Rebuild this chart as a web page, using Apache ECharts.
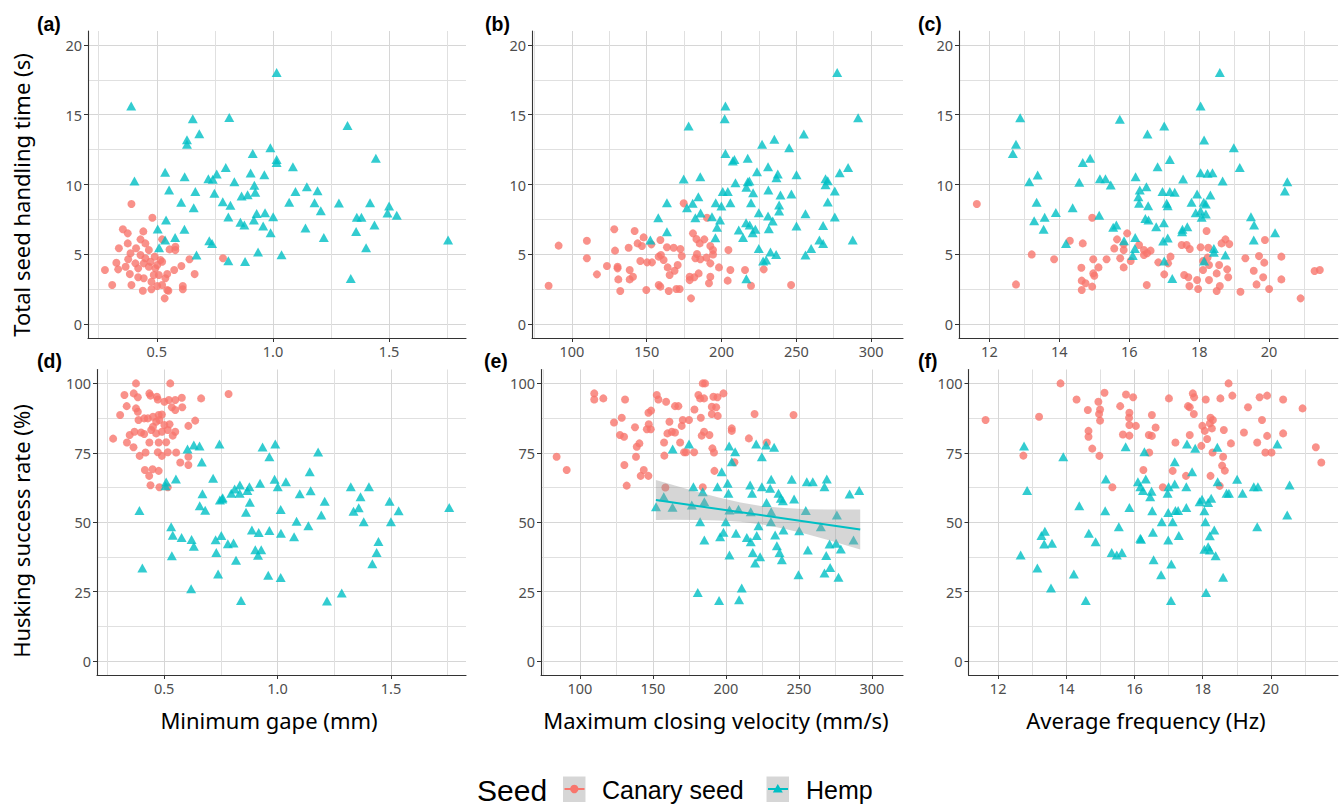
<!DOCTYPE html>
<html><head><meta charset="utf-8">
<script src="https://cdn.jsdelivr.net/npm/echarts@6/dist/echarts.min.js"></script>
<style>html,body{margin:0;padding:0;background:#fff}#c{width:1344px;height:807px}</style>
</head><body><div id="c"></div><script>
// ---------- tick labels ----------
const gapeTicks=[0.5,1.0,1.5], gapeMinor=[0.25,0.75,1.25,1.75];
const velTicks=[100,150,200,250,300], velMinor=[75,125,175,225,275];
const freqTicks=[12,14,16,18,20], freqMinor=[13,15,17,19,21];
const timeTicks=[0,5,10,15,20], timeMinor=[2.5,7.5,12.5,17.5];
const huskTicks=[0,25,50,75,100], huskMinor=[12.5,37.5,62.5,87.5];

// ---------- (a) gape vs time ----------
const canaryGapeTime=[[0.391,8.60],[0.481,7.62],[0.354,6.79],[0.375,6.50],[0.442,6.64],[0.523,6.07],[0.375,5.78],[0.337,5.43],[0.430,6.07],[0.451,5.78],[0.411,5.43],[0.466,5.30],[0.555,5.35],[0.580,5.54],[0.580,5.30],[0.387,5.07],[0.430,4.95],[0.491,4.83],[0.516,4.59],[0.377,4.64],[0.326,4.39],[0.444,4.35],[0.473,4.47],[0.523,4.47],[0.641,4.64],[0.334,3.92],[0.366,4.11],[0.420,3.99],[0.466,4.11],[0.502,4.23],[0.606,4.16],[0.277,3.87],[0.384,3.58],[0.420,3.35],[0.444,3.28],[0.487,3.51],[0.509,3.51],[0.537,3.28],[0.575,3.87],[0.663,3.58],[0.545,3.58],[0.308,2.80],[0.391,2.80],[0.477,3.03],[0.502,2.72],[0.545,2.44],[0.440,2.39],[0.612,2.72],[0.612,2.49],[0.534,1.84],[0.477,2.49],[0.523,2.80],[0.785,4.71],[0.408,4.35],[0.451,4.71],[0.494,3.99],[0.550,2.39]];
const hempGapeTime=[[1.016,18.02],[0.39,15.63],[0.655,14.72],[0.812,14.81],[0.683,13.64],[0.630,13.21],[0.630,12.88],[1.321,14.22],[0.989,12.64],[0.913,12.23],[1.016,11.80],[1.016,11.57],[1.443,11.88],[1.086,11.28],[0.797,11.21],[0.536,10.87],[0.620,10.56],[0.404,10.25],[0.904,10.82],[0.963,10.70],[0.758,10.75],[0.722,10.42],[0.741,10.37],[0.834,10.20],[0.920,9.94],[0.553,9.61],[0.666,9.49],[0.748,9.37],[0.865,9.18],[0.891,9.27],[0.924,9.44],[1.146,9.84],[1.097,9.49],[1.192,9.56],[0.605,8.72],[0.784,8.77],[0.817,8.51],[0.659,8.34],[1.070,8.72],[1.179,8.70],[1.284,8.67],[1.418,8.70],[1.500,8.46],[1.206,8.12],[1.493,7.96],[1.533,7.79],[0.808,7.67],[0.930,7.93],[0.966,7.98],[1.001,7.69],[0.918,7.46],[1.361,7.65],[1.381,7.65],[0.540,7.46],[0.860,7.29],[0.877,7.10],[0.958,7.03],[0.504,6.81],[0.619,6.79],[1.140,6.88],[1.437,7.10],[0.990,6.55],[1.358,6.64],[0.536,6.02],[0.579,6.21],[0.726,5.97],[0.738,5.78],[1.219,6.21],[1.754,6.02],[0.510,5.47],[1.401,5.47],[0.671,4.95],[0.936,5.16],[1.037,4.97],[0.808,4.54],[0.880,4.49],[1.335,3.27]];

// ---------- (b) velocity vs time ----------
const canaryVelTime=[[84.4,2.75],[91.1,5.62],[110.0,5.97],[110.0,4.71],[116.7,3.56],[123.4,4.16],[128.3,6.79],[128.8,5.26],[130.5,4.11],[130.5,3.99],[131.0,3.20],[132.3,2.37],[137.9,5.47],[138.6,3.87],[138.6,3.20],[140.8,3.39],[141.9,6.67],[143.9,5.78],[146.8,5.59],[147.9,6.21],[145.7,4.52],[150.2,4.42],[149.7,2.44],[153.5,4.42],[153.1,5.71],[159.1,6.02],[158.0,4.83],[159.5,4.95],[161.3,4.59],[163.5,5.50],[164.0,4.06],[165.3,3.51],[158.0,2.80],[159.1,2.68],[164.7,2.37],[168.0,5.47],[168.6,3.82],[170.7,4.23],[169.8,2.51],[172.0,2.51],[172.5,5.38],[173.4,4.87],[174.7,8.65],[179.6,1.84],[178.7,3.39],[178.7,3.15],[180.9,6.50],[183.2,6.09],[185.4,5.78],[188.5,6.07],[183.6,5.02],[182.5,4.71],[185.8,4.64],[189.9,4.76],[181.8,3.35],[184.7,3.63],[190.3,7.62],[192.5,5.59],[194.3,5.30],[194.3,4.99],[192.5,4.35],[192.5,3.39],[191.6,2.92],[198.3,4.06],[204.1,3.11],[204.6,5.30],[205.9,3.87],[215.7,3.87],[219.7,2.75],[228.2,3.92],[246.5,2.80]];
const hempVelTime=[[277.3,18.02],[202.6,15.63],[202.1,14.72],[178.0,14.19],[291.3,14.79],[255.0,13.62],[227.1,12.88],[235.3,13.24],[245.2,12.64],[202.6,12.23],[207.5,11.68],[208.6,11.80],[217.5,11.88],[231.1,11.28],[223.7,10.92],[237.6,10.75],[250.1,10.70],[284.6,11.21],[279.0,10.85],[269.5,10.42],[271.0,10.27],[269.5,9.99],[174.7,10.39],[185.8,10.56],[209.3,10.13],[217.5,10.20],[218.6,10.25],[236.7,10.49],[216.6,9.80],[231.3,9.61],[200.8,9.49],[204.2,9.49],[221.1,9.41],[239.4,9.25],[246.7,9.32],[275.7,9.53],[184.5,9.13],[163.5,8.70],[180.7,8.65],[176.9,8.34],[196.1,8.70],[199.9,8.46],[205.9,8.70],[219.7,8.70],[238.5,8.53],[238.5,8.10],[271.0,8.75],[157.7,7.62],[182.5,7.62],[186.0,7.96],[193.6,7.69],[199.0,7.46],[224.9,7.98],[231.1,7.74],[234.2,7.38],[256.1,7.91],[275.7,7.67],[216.4,7.26],[218.8,7.10],[222.6,6.79],[220.8,6.55],[211.5,6.74],[197.0,6.93],[231.6,6.83],[250.1,7.03],[267.9,7.07],[163.5,6.62],[214.4,6.21],[195.9,6.19],[152.4,6.02],[265.4,6.02],[267.9,5.78],[287.7,6.02],[224.9,5.42],[259.9,5.42],[232.7,5.16],[236.5,4.99],[256.1,4.95],[227.8,4.52],[229.8,4.59],[216.6,3.25]];

// ---------- (c) frequency vs time ----------
const canaryFreqTime=[[11.64,8.60],[12.76,2.84],[13.21,4.99],[13.85,4.64],[14.30,5.97],[14.67,5.78],[14.63,4.04],[14.64,3.11],[14.75,2.92],[14.64,2.44],[14.94,7.62],[14.97,4.64],[14.97,3.63],[15.00,3.46],[14.94,2.68],[15.12,4.06],[15.35,4.64],[15.57,5.42],[15.65,6.07],[15.74,4.71],[15.84,5.71],[15.84,5.30],[15.84,4.06],[15.94,6.50],[16.04,4.52],[16.28,5.66],[16.42,5.30],[16.42,4.95],[16.51,5.07],[16.61,5.26],[16.50,2.80],[16.83,4.42],[17.00,3.56],[17.11,4.35],[17.18,4.83],[17.50,5.66],[17.64,5.66],[17.73,5.38],[17.57,3.51],[17.69,3.35],[17.72,2.72],[17.94,3.15],[17.97,2.51],[18.04,5.50],[18.11,4.52],[18.11,3.87],[18.21,6.67],[18.26,5.47],[18.24,4.76],[18.28,4.23],[18.28,3.15],[18.50,3.63],[18.57,4.23],[18.59,2.72],[18.50,2.37],[18.64,5.78],[18.75,6.07],[18.86,5.73],[18.80,3.92],[18.83,3.35],[19.18,2.32],[19.32,4.71],[19.56,3.82],[19.64,2.84],[19.71,4.87],[19.88,6.02],[19.86,4.40],[19.83,3.35],[20.00,2.51],[20.35,4.83],[20.35,3.20],[20.90,1.84],[21.30,3.80],[21.45,3.87]];
const hempFreqTime=[[18.59,18.02],[18.04,15.63],[12.88,14.79],[15.73,14.67],[17.00,14.19],[16.52,13.62],[18.14,13.19],[12.76,12.88],[12.67,12.23],[18.99,12.64],[17.16,11.80],[14.88,11.88],[14.67,11.57],[16.81,11.28],[19.16,11.21],[13.38,10.68],[13.14,10.20],[16.18,10.56],[15.16,10.42],[15.32,10.42],[15.47,9.96],[14.57,10.16],[17.54,10.39],[18.04,10.85],[18.24,10.80],[18.38,10.85],[18.67,10.25],[20.52,10.20],[20.45,9.53],[16.30,9.61],[16.26,9.13],[16.49,9.84],[16.28,8.65],[16.54,8.48],[16.95,9.49],[17.16,9.49],[17.30,9.44],[17.07,8.65],[17.10,8.48],[17.94,9.32],[18.32,9.25],[17.78,8.72],[18.13,8.72],[18.19,8.60],[17.90,7.98],[18.04,8.10],[18.19,7.89],[18.07,7.65],[13.35,8.72],[14.38,8.34],[13.90,8.00],[13.28,7.41],[13.58,7.65],[13.55,6.79],[15.14,7.79],[15.54,6.93],[15.63,7.10],[16.46,7.57],[16.55,7.46],[16.77,6.98],[16.99,7.26],[17.52,6.79],[17.66,6.98],[17.51,6.62],[19.48,7.69],[19.57,7.10],[19.56,6.02],[20.17,6.55],[14.19,5.78],[15.85,5.97],[16.17,6.21],[16.97,5.95],[17.10,6.16],[16.16,5.42],[16.10,4.92],[17.00,4.52],[17.23,3.27],[18.14,4.52],[18.42,5.42],[18.42,5.14],[18.75,4.95]];

// ---------- (d) gape vs husking ----------
const canaryGapeHusk=[[0.376,100],[0.527,100],[0.325,95.8],[0.366,96.4],[0.384,95.0],[0.435,96.4],[0.440,95.6],[0.468,95.2],[0.472,94.2],[0.501,93.4],[0.521,94.0],[0.549,94.0],[0.578,94.8],[0.663,94.6],[0.784,96.2],[0.335,91.8],[0.376,91.0],[0.384,89.8],[0.534,91.4],[0.549,90.4],[0.580,91.4],[0.306,88.6],[0.387,86.8],[0.412,87.4],[0.428,87.4],[0.451,88.0],[0.476,88.6],[0.490,88.8],[0.465,86.2],[0.479,86.8],[0.501,85.0],[0.524,85.3],[0.637,86.6],[0.607,84.7],[0.451,84.4],[0.443,83.2],[0.369,82.6],[0.398,82.3],[0.412,81.8],[0.465,82.0],[0.490,82.6],[0.516,83.2],[0.549,82.6],[0.538,81.2],[0.348,81.4],[0.275,80.1],[0.336,78.7],[0.365,77.0],[0.435,78.7],[0.476,78.7],[0.509,78.8],[0.472,75.2],[0.490,73.9],[0.516,75.2],[0.553,75.1],[0.418,75.1],[0.392,73.9],[0.607,73.6],[0.607,70.6],[0.571,71.5],[0.415,68.8],[0.449,69.1],[0.476,68.5],[0.434,66.7],[0.440,63.3],[0.479,62.6],[0.516,62.6]];
const hempGapeHusk=[[1.757,55.3],[0.603,76.4],[0.631,77.8],[0.656,77.5],[0.744,78.2],[0.666,71.7],[0.934,77.1],[0.990,78.2],[0.964,73.6],[1.179,75.3],[1.142,68.2],[0.509,64.5],[0.506,63.1],[0.552,65.6],[0.716,65.8],[0.669,60.3],[0.657,55.9],[0.681,54.3],[0.746,58.0],[0.758,58.8],[0.796,60.4],[0.811,62.0],[0.834,63.4],[0.833,60.4],[0.867,61.4],[0.876,62.8],[0.878,57.2],[0.923,64.0],[0.861,53.6],[0.987,65.5],[1.001,62.8],[1.037,64.6],[1.014,54.6],[1.098,60.3],[1.146,61.3],[1.208,57.6],[1.193,52.6],[1.084,50.4],[1.136,48.7],[1.323,62.8],[1.403,62.8],[1.366,59.2],[1.358,55.2],[1.335,54.0],[1.380,50.2],[1.494,57.6],[1.534,54.1],[1.500,50.2],[1.445,43.1],[1.437,39.1],[1.418,35.1],[0.391,54.2],[0.531,48.4],[0.538,45.3],[0.577,44.5],[0.621,43.8],[0.631,41.4],[0.534,37.9],[0.404,33.5],[0.727,43.7],[0.730,39.1],[0.752,45.2],[0.756,58.4],[0.781,42.3],[0.806,42.5],[0.817,36.3],[0.887,47.2],[0.917,46.3],[0.964,47.0],[0.902,40.1],[0.928,40.1],[0.914,38.1],[1.015,46.0],[1.073,44.8],[0.738,31.4],[0.959,30.9],[1.014,30.1],[0.619,26.1],[0.839,21.8],[1.218,21.6],[1.283,24.5]];

// ---------- (e) velocity vs husking ----------
const canaryVelHusk=[[184.1,100],[185.7,100],[109.8,96.4],[109.8,94.2],[116.0,94.6],[130.9,94.2],[152.6,95.8],[153.7,94.2],[159.0,93.4],[165.1,91.8],[167.4,91.8],[181.1,95.8],[182.3,94.6],[185.0,94.6],[191.4,95.2],[194.2,95.0],[198.3,96.4],[178.4,90.6],[190.3,91.6],[193.3,91.4],[190.3,89.0],[194.4,88.3],[148.7,90.2],[146.9,89.4],[128.6,87.6],[123.3,85.9],[161.3,86.2],[170.4,86.8],[174.7,86.8],[182.8,87.6],[169.7,84.7],[147.1,85.3],[145.8,83.5],[148.5,83.5],[137.7,84.2],[159.9,82.0],[162.9,82.6],[165.1,82.3],[185.0,82.6],[183.4,81.2],[188.7,81.4],[127.4,81.4],[130.2,80.8],[204.0,83.8],[204.0,82.9],[219.6,89.0],[246.3,88.6],[215.7,80.2],[228.0,78.7],[140.7,78.4],[138.9,77.2],[157.6,78.7],[168.6,78.7],[171.3,75.2],[172.7,75.2],[178.2,75.2],[157.8,74.0],[190.7,76.6],[191.8,75.1],[138.4,73.6],[84.0,73.6],[90.9,68.8],[130.4,70.6],[143.7,68.8],[141.6,66.7],[146.9,66.7],[192.1,68.5],[205.8,71.6],[132.0,63.2],[158.5,62.5],[184.1,62.6]];
const hempVelHusk=[[163.5,76.4],[174.7,78.2],[202.2,77.5],[206.3,75.4],[204.0,71.8],[220.7,78.2],[227.5,77.8],[233.0,77.0],[224.6,73.6],[197.1,68.2],[177.7,62.8],[184.1,61.0],[194.2,62.8],[201.2,64.0],[201.7,60.4],[216.6,63.4],[217.9,60.4],[224.6,62.8],[231.0,65.5],[230.3,62.2],[236.0,60.4],[237.6,58.6],[239.0,57.7],[245.1,65.5],[246.7,58.4],[255.4,64.6],[259.5,64.6],[269.1,65.6],[267.5,62.8],[284.7,60.2],[291.3,61.4],[157.4,59.2],[152.1,55.6],[163.4,55.4],[176.6,56.2],[185.2,57.4],[202.4,54.4],[208.6,54.7],[217.0,53.8],[227.8,57.1],[231.0,53.8],[230.8,50.2],[254.7,54.2],[276.0,52.6],[182.3,50.2],[199.9,50.2],[222.3,48.7],[265.0,48.4],[239.4,47.2],[250.2,46.9],[198.3,46.4],[206.9,46.0],[221.1,45.2],[233.7,45.4],[196.0,44.8],[214.3,44.5],[217.0,43.0],[185.2,43.6],[287.4,43.6],[234.9,41.5],[256.1,40.0],[271.0,42.2],[275.5,42.4],[278.7,40.4],[236.7,39.1],[218.4,39.1],[202.4,38.2],[223.4,37.6],[268.7,38.0],[238.3,36.5],[220.0,35.3],[271.4,33.7],[267.5,31.7],[277.1,30.2],[249.7,31.1],[180.7,24.7],[210.8,26.3],[195.3,21.8],[209.0,22.1]];
// linear fit (hemp) and its confidence band
const fitVel=[152,292], fitHusk=[58.0,47.4];
const ribbonVel=[152,165,180,195,210,225,240,255,270,285,292];
const ribbonLower=[50.8,50.9,50.8,50.6,50.2,49.2,47.7,45.8,43.6,41.3,40.2];
const ribbonUpper=[65.2,63.2,61.0,58.9,57.1,55.8,55.1,54.7,54.6,54.6,54.6];

// ---------- (f) frequency vs husking ----------
const canaryFreqHusk=[[11.63,86.8],[12.74,74.0],[13.20,88.0],[13.83,100],[14.30,94.2],[14.63,90.4],[14.65,82.9],[14.65,80.8],[14.76,76.5],[14.94,93.4],[14.99,90.6],[14.96,89.0],[14.99,86.6],[14.97,73.9],[15.12,96.6],[15.35,62.6],[15.58,91.8],[15.66,81.6],[15.75,96.0],[15.85,89.4],[15.84,87.6],[15.85,85.0],[15.85,81.2],[15.96,95.0],[16.04,84.7],[16.26,68.8],[16.43,75.1],[16.42,81.4],[16.51,81.1],[16.51,88.6],[16.62,84.1],[16.83,62.6],[17.01,94.6],[17.12,68.5],[17.20,78.7],[17.51,66.7],[17.57,91.8],[17.62,91.4],[17.62,81.4],[17.71,96.4],[17.75,95.0],[17.74,89.0],[17.96,77.5],[17.99,84.7],[18.09,94.2],[18.06,82.9],[18.13,80.0],[18.21,85.6],[18.23,87.6],[18.30,86.8],[18.27,83.8],[18.29,75.1],[18.23,66.7],[18.52,94.6],[18.50,63.1],[18.62,83.2],[18.60,73.6],[18.57,70.4],[18.65,68.6],[18.76,100],[18.87,95.6],[18.83,78.4],[19.21,82.3],[19.33,91.4],[19.60,78.7],[19.67,95.0],[19.74,86.8],[19.84,75.1],[19.89,95.6],[19.89,81.1],[20.02,75.1],[20.36,94.2],[20.36,82.0],[20.93,91.0],[21.32,77.0],[21.48,71.5]];
const hempFreqHusk=[[12.76,77.5],[12.85,61.4],[12.66,38.2],[13.15,33.5],[13.27,45.2],[13.37,46.8],[13.35,42.2],[13.58,42.4],[13.55,26.3],[13.91,73.6],[14.22,31.4],[14.38,55.9],[14.57,21.8],[14.66,46.0],[14.86,43.0],[15.16,65.6],[15.14,54.1],[15.33,39.1],[15.48,38.2],[15.63,39.1],[15.54,48.4],[15.74,77.2],[15.85,55.3],[16.10,64.6],[16.17,62.8],[16.25,61.4],[16.29,75.4],[16.33,65.6],[16.17,44.2],[16.19,43.9],[16.46,59.2],[16.50,61.2],[16.52,54.1],[16.54,46.4],[16.56,36.5],[16.80,50.2],[16.78,31.1],[16.97,60.4],[17.00,62.8],[16.99,43.6],[16.99,53.5],[17.12,50.2],[17.08,35.0],[17.07,21.8],[17.18,71.8],[17.18,63.8],[17.20,54.2],[17.28,54.2],[17.30,45.2],[17.52,55.3],[17.52,62.8],[17.54,78.2],[17.69,68.2],[17.78,76.6],[17.91,57.4],[17.98,58.3],[18.05,54.1],[18.08,50.2],[18.05,40.3],[18.16,57.1],[18.16,41.2],[18.21,40.0],[18.21,45.1],[18.25,58.6],[18.34,47.2],[18.38,37.9],[18.10,24.7],[18.43,77.0],[18.44,64.6],[18.60,30.2],[18.70,60.4],[18.77,60.4],[19.01,65.5],[19.17,60.4],[19.50,62.8],[19.62,62.8],[19.60,48.4],[20.19,78.2],[20.55,63.4],[20.48,52.6]];

// ---------- build ----------
const RED='#F8766D', TEAL='#00BFC4';
const AX='#333333', LBL='#4D4D4D', GRID='#d6d6d6', MINOR='#e0e0e0';
const TICKFONT='"Noto Sans", "Open Sans", sans-serif';
const f1=v=>v.toFixed(1), f0=v=>String(Math.round(v));
const panels=[
 {box:[88,31,378,307],  x:[0.204,1.831], xt:gapeTicks, xm:gapeMinor, xf:f1, y:[-1,21],  yt:timeTicks, ym:timeMinor, c:canaryGapeTime, h:hempGapeTime, tag:'(a)', tp:[37,25]},
 {box:[532,31,371,307], x:[73.3,321.3],  xt:velTicks,  xm:velMinor,  xf:f0, y:[-1,21],  yt:timeTicks, ym:timeMinor, c:canaryVelTime,  h:hempVelTime,  tag:'(b)', tp:[485,25]},
 {box:[959,31,379,307], x:[11.13,21.97], xt:freqTicks, xm:freqMinor, xf:f0, y:[-1,21],  yt:timeTicks, ym:timeMinor, c:canaryFreqTime, h:hempFreqTime, tag:'(c)', tp:[918,25]},
 {box:[97,369.5,369,305.5],  x:[0.204,1.831], xt:gapeTicks, xm:gapeMinor, xf:f1, y:[-5,105], yt:huskTicks, ym:huskMinor, c:canaryGapeHusk, h:hempGapeHusk, tag:'(d)', tp:[37,362]},
 {box:[541,369.5,362,305.5], x:[73.3,321.3],  xt:velTicks,  xm:velMinor,  xf:f0, y:[-5,105], yt:huskTicks, ym:huskMinor, c:canaryVelHusk,  h:hempVelHusk,  tag:'(e)', tp:[484,362]},
 {box:[968.5,369.5,369.5,305.5], x:[11.13,21.97], xt:freqTicks, xm:freqMinor, xf:f0, y:[-5,105], yt:huskTicks, ym:huskMinor, c:canaryFreqHusk, h:hempFreqHusk, tag:'(f)', tp:[918,362]}
];
const option={animation:false, grid:[], xAxis:[], yAxis:[], series:[], graphic:[]};
function majorAxis(g,ext,ticks,fmt,isX){
  return {type:'value', gridIndex:g, min:ext[0], max:ext[1], position:isX?'bottom':'left',
    axisLine:{show:true,onZero:false,lineStyle:{color:AX,width:1.1}},
    axisTick:{show:true,length:4,inside:false,customValues:ticks,lineStyle:{color:AX,width:1}},
    axisLabel:{show:true,customValues:ticks,formatter:fmt,color:LBL,fontSize:14.5,fontFamily:TICKFONT,margin:isX?5:6,showMinLabel:true,showMaxLabel:true,hideOverlap:false},
    splitLine:{show:true,lineStyle:{color:GRID,width:1}}};
}
function minorAxis(g,ext,ticks,isX){
  return {type:'value', gridIndex:g, min:ext[0], max:ext[1], position:isX?'bottom':'left',
    axisLine:{show:false}, axisTick:{show:false,customValues:ticks}, axisLabel:{show:false,customValues:ticks},
    splitLine:{show:true,lineStyle:{color:MINOR,width:1}}};
}
panels.forEach((p,g)=>{
  option.grid.push({left:p.box[0],top:p.box[1],width:p.box[2],height:p.box[3],containLabel:false,outerBoundsMode:'none',show:false});
  option.xAxis.push(majorAxis(g,p.x,p.xt,p.xf,true));
  option.xAxis.push(minorAxis(g,p.x,p.xm,true));
  option.yAxis.push(majorAxis(g,p.y,p.yt,f0,false));
  option.yAxis.push(minorAxis(g,p.y,p.ym,false));
  option.series.push({name:'Canary seed',type:'scatter',xAxisIndex:2*g,yAxisIndex:2*g,data:p.c,symbol:'circle',symbolSize:8,itemStyle:{color:RED},z:2,silent:true});
  option.series.push({name:'Hemp',type:'scatter',xAxisIndex:2*g,yAxisIndex:2*g,data:p.h,symbol:'triangle',symbolSize:[10,9],itemStyle:{color:TEAL},z:3,silent:true});
  option.graphic.push({type:'text',left:p.tp[0],top:p.tp[1]-11,style:{text:p.tag,font:'bold 19.5px "Liberation Sans", Arial, sans-serif',fill:'#000'}});
});
// ribbon + fit line in (e)
option.series.push({type:'custom',xAxisIndex:8,yAxisIndex:8,z:4,silent:true,
  data:[[ribbonVel[0],ribbonLower[0]]],
  renderItem:function(params,api){
    const pts=[];
    for(let i=0;i<ribbonVel.length;i++) pts.push(api.coord([ribbonVel[i],ribbonUpper[i]]));
    for(let i=ribbonVel.length-1;i>=0;i--) pts.push(api.coord([ribbonVel[i],ribbonLower[i]]));
    return {type:'polygon',shape:{points:pts},style:{fill:'rgba(153,153,153,0.4)'}};
  }});
option.series.push({type:'line',xAxisIndex:8,yAxisIndex:8,z:5,silent:true,symbol:'none',
  data:fitVel.map((v,i)=>[v,fitHusk[i]]),lineStyle:{color:TEAL,width:2}});

// axis titles
const TITLEFONT='22px "Noto Sans", "Open Sans", sans-serif';
[['Minimum gape (mm)',269,720],['Maximum closing velocity (mm/s)',716,720],['Average frequency (Hz)',1146,720]].forEach(t=>{
  option.graphic.push({type:'text',x:t[1],y:t[2],style:{text:t[0],font:TITLEFONT,fill:'#000',align:'center',verticalAlign:'middle',textAlign:'center',textVerticalAlign:'middle'}});
});
[['Total seed handling time (s)',21,195],['Husking success rate (%)',21,531]].forEach(t=>{
  option.graphic.push({type:'text',x:t[1],y:t[2],rotation:Math.PI/2,style:{text:t[0],font:TITLEFONT,fill:'#000',align:'center',verticalAlign:'middle',textAlign:'center',textVerticalAlign:'middle'}});
});
// legend
const LF='"Liberation Sans", Arial, sans-serif';
option.graphic.push({type:'text',x:477,y:790,style:{text:'Seed',font:'30px '+LF,lineHeight:30,fill:'#000',verticalAlign:'middle',textVerticalAlign:'middle'}});
option.graphic.push({type:'rect',shape:{x:563,y:776.5,width:22.5,height:25.5},style:{fill:'#d6d6d6'}});
option.graphic.push({type:'line',shape:{x1:564.5,y1:789,x2:584.5,y2:789},style:{stroke:RED,lineWidth:2}});
option.graphic.push({type:'circle',shape:{cx:574.3,cy:789,r:4.2},style:{fill:RED}});
option.graphic.push({type:'text',x:602,y:790,style:{text:'Canary seed',font:'25px '+LF,lineHeight:25,fill:'#000',verticalAlign:'middle',textVerticalAlign:'middle'}});
option.graphic.push({type:'rect',shape:{x:766.5,y:776.5,width:22.5,height:25.5},style:{fill:'#d6d6d6'}});
option.graphic.push({type:'line',shape:{x1:768,y1:789,x2:788,y2:789},style:{stroke:TEAL,lineWidth:2}});
option.graphic.push({type:'polygon',shape:{points:[[777.8,784],[782.8,792.6],[772.8,792.6]]},style:{fill:TEAL}});
option.graphic.push({type:'text',x:806,y:790,style:{text:'Hemp',font:'25px '+LF,lineHeight:25,fill:'#000',verticalAlign:'middle',textVerticalAlign:'middle'}});

const chart=echarts.init(document.getElementById('c'),null,{renderer:'svg',width:1344,height:807});
chart.setOption(option);
</script></body></html>
